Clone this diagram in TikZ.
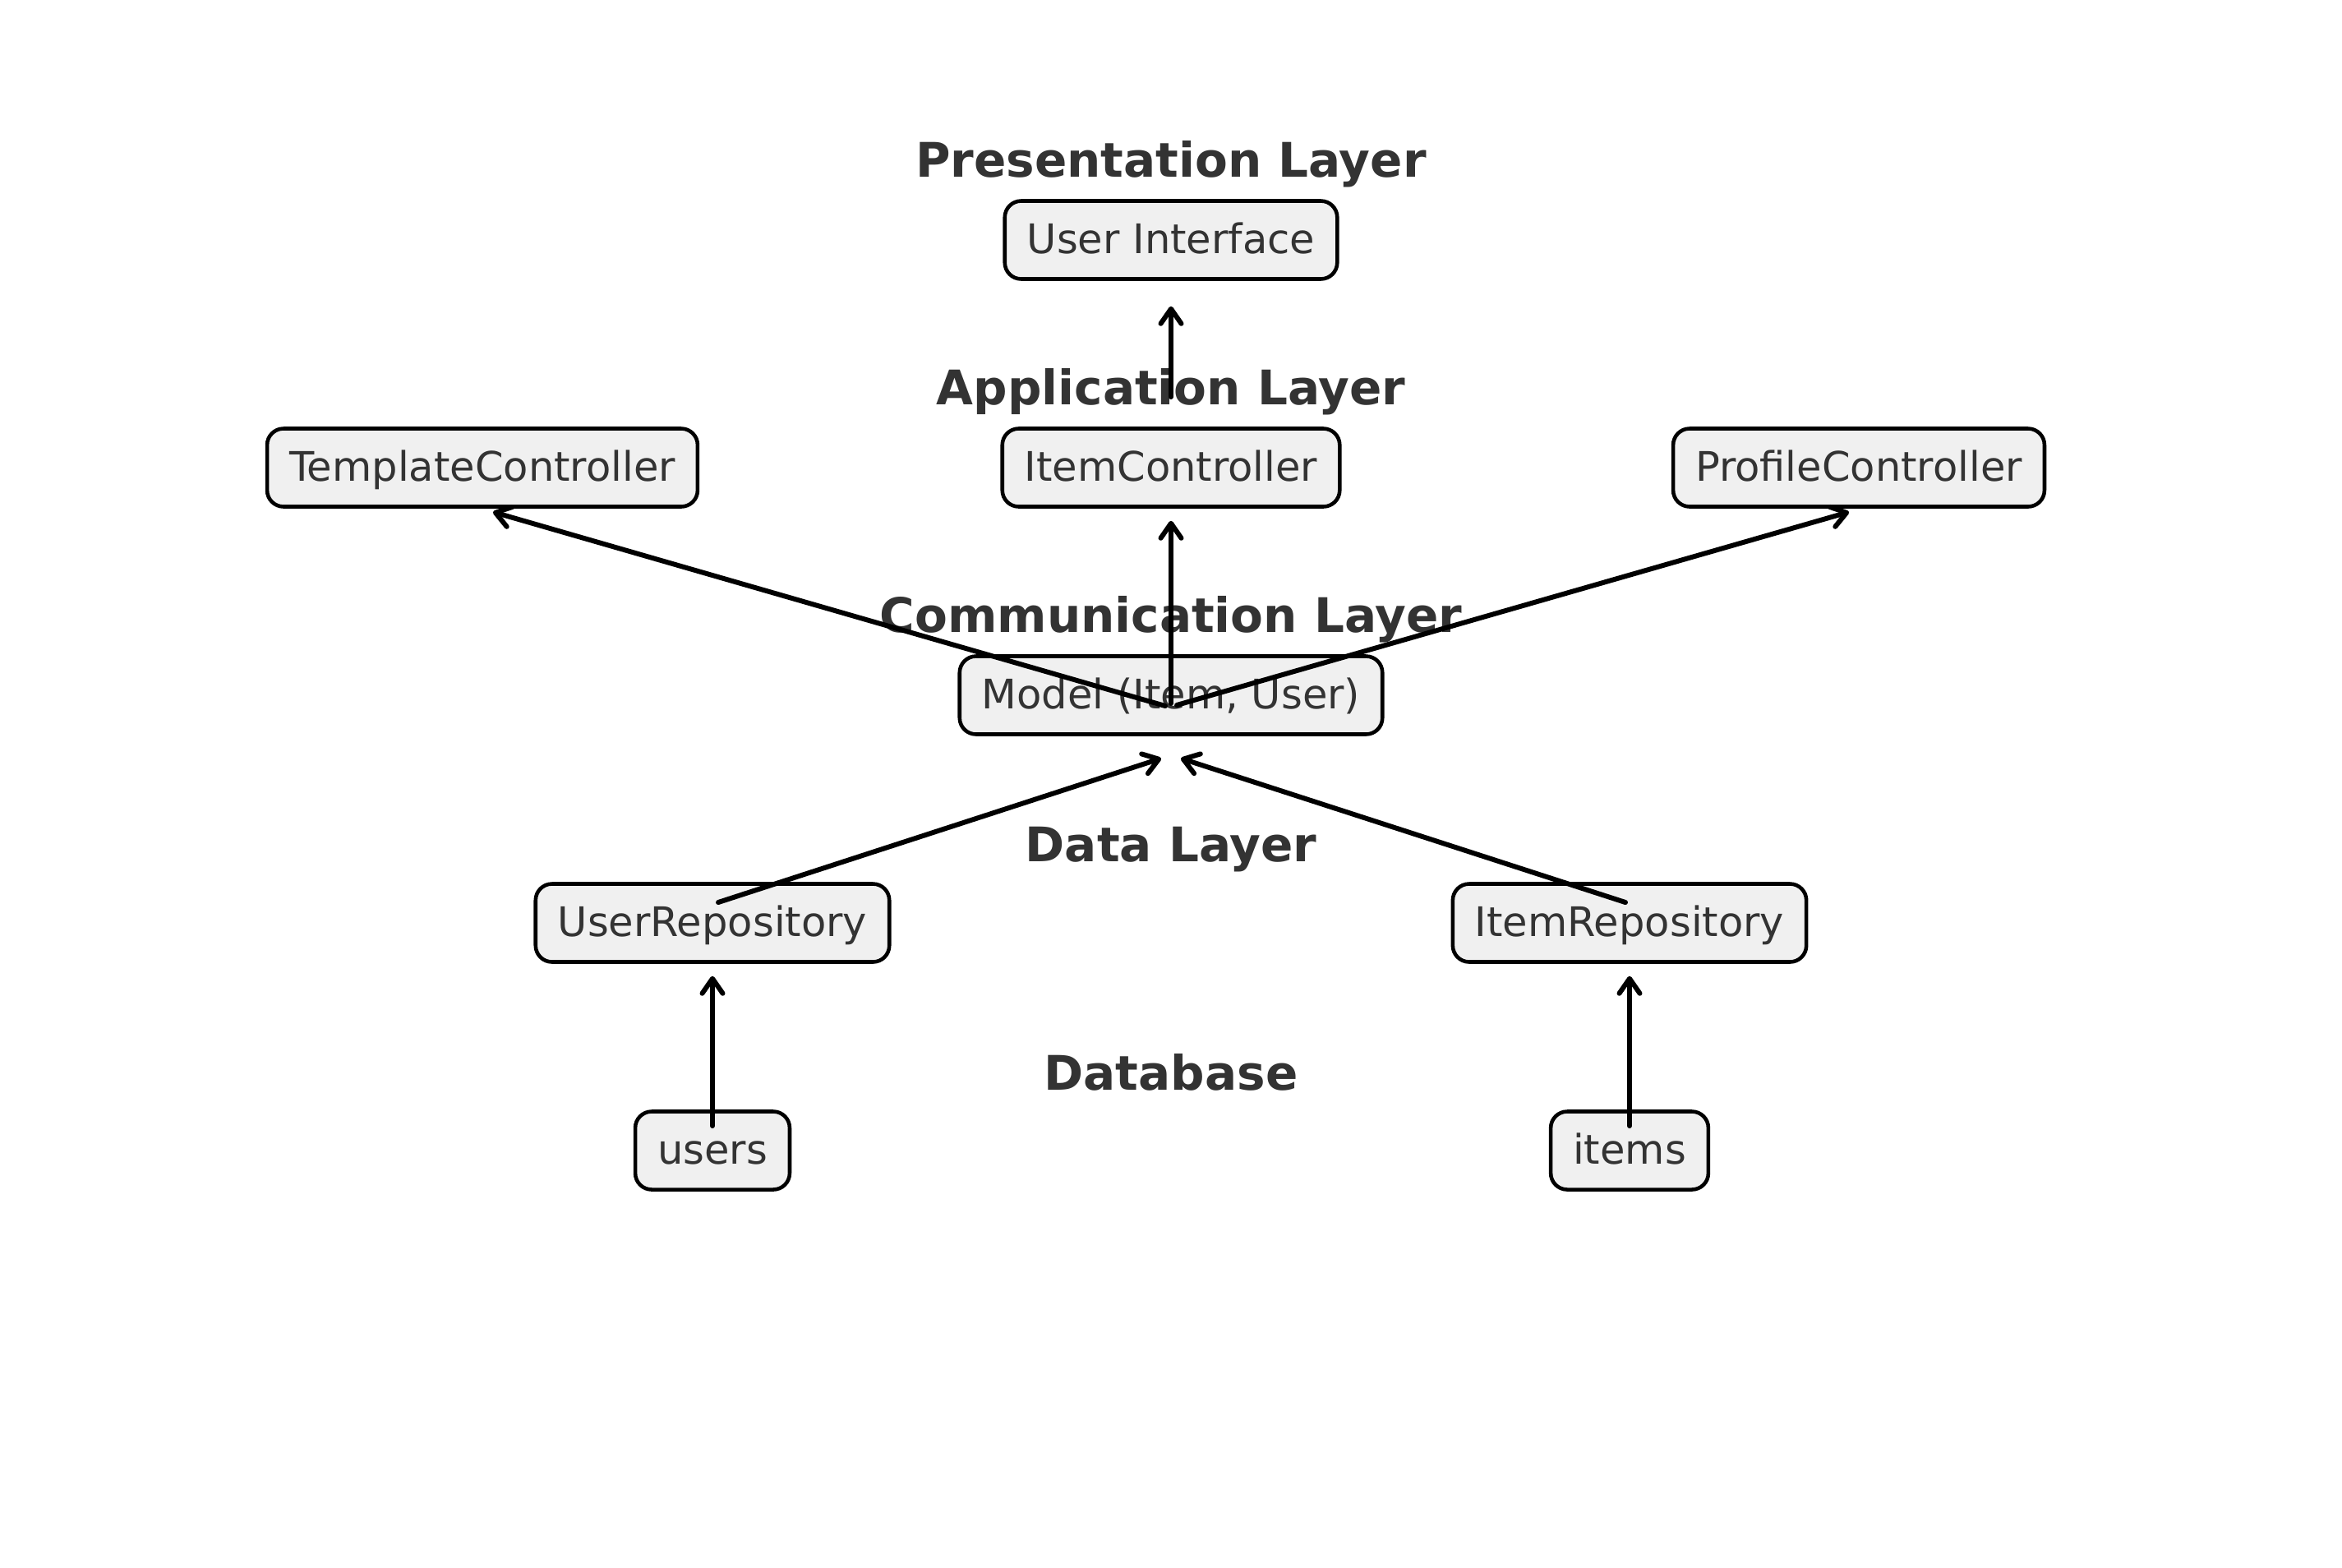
\documentclass[tikz,border=0pt]{standalone}
\usepackage{fontspec}
\setmainfont{DejaVu Sans}
\usepackage{tikz}
\usetikzlibrary{positioning,arrows.meta,calc}
\definecolor{boxfill}{HTML}{F0F0F0}
\definecolor{ink}{HTML}{333333}
\tikzset{
    comp/.style={rectangle,draw=black,line width=1.3pt,fill=boxfill,rounded corners=0.2cm,minimum height=0.95cm,inner xsep=0.27cm,inner ysep=0pt,text height=12.6pt,text depth=3pt,text=ink,font=\fontsize{14.1}{16}\selectfont},
    lyr/.style={text=ink,text height=12.2pt,text depth=0pt,font=\fontsize{16.5}{19}\selectfont\bfseries},
    arr/.style={-{Straight Barb[length=1.8mm,width=2.5mm,round]},line width=1.7pt,line cap=round},
}

\begin{document}
\begin{tikzpicture}
\useasboundingbox (0,0) rectangle (28.5,-19.07);

% components, one row per layer
\node[comp] (ui) at (14.25,-2.92) {User Interface};
\node[comp] (ic) at (14.25,-5.69) {ItemController};
\node[comp] (tc) at (5.87,-5.69) {TemplateController};
\node[comp] (pc) at (22.62,-5.69) {ProfileController};
\node[comp] (model) at (14.25,-8.46) {Model (Item, User)};
\node[comp] (ur) at (8.67,-11.23) {UserRepository};
\node[comp] (ir) at (19.83,-11.23) {ItemRepository};
\node[comp] (users) at (8.67,-14.0) {users};
\node[comp] (items) at (19.83,-14.0) {items};

% layer titles
\node[lyr] (tpres) at ($(ui)+(0,0.98)$) {Presentation Layer};
\node[lyr] (tapp) at ($(ic)+(0,0.98)$) {Application Layer};
\node[lyr] (tcom) at ($(model)+(0,0.98)$) {Communication Layer};
\node[lyr] (tdata) at (14.25,-10.27) {Data Layer};
\node[lyr] (tdb) at (14.25,-13.05) {Database};

\draw[arr] ($(ic)+(0,0.86)$) -- ($(ui.south)+(0,-0.31)$);
\draw[arr] ($(model)+(-0.07,-0.13)$) -- ($(tc)+(0.13,-0.54)$);
\draw[arr] ($(model)+(0,-0.10)$) -- ($(ic.south)+(0,-0.15)$);
\draw[arr] ($(model)+(0.07,-0.12)$) -- ($(pc)+(-0.12,-0.54)$);
\draw[arr] ($(ur)+(0.07,0.25)$) -- ($(model.south)+(-0.12,-0.27)$);
\draw[arr] ($(ir)+(-0.05,0.25)$) -- ($(model.south)+(0.12,-0.27)$);
\draw[arr] ($(users)+(0,0.30)$) -- ($(ur.south)+(0,-0.15)$);
\draw[arr] ($(items)+(0,0.30)$) -- ($(ir.south)+(0,-0.15)$);
\end{tikzpicture}
\end{document}
